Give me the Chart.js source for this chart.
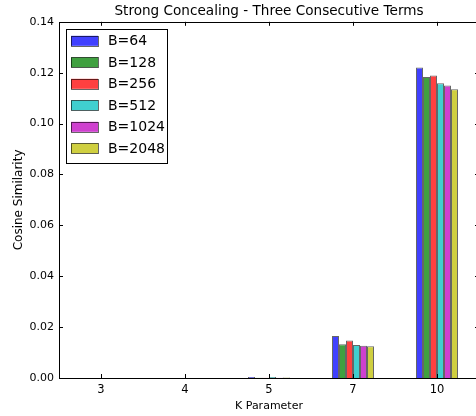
<!DOCTYPE html>
<html>
<head>
<meta charset="utf-8">
<script src="https://cdn.jsdelivr.net/npm/chart.js@4/dist/chart.umd.min.js"></script>
<style>
  html, body { margin: 0; padding: 0; overflow: hidden; background: #fff; }
</style>
</head>
<body>
<canvas id="chart" width="538" height="416"></canvas>
<script>
// categories and series
const kValues = ['3', '4', '5', '7', '10'];
const seriesNames = ['B=64', 'B=128', 'B=256', 'B=512', 'B=1024', 'B=2048'];
const b64   = [0.00003, 0.00002, 0.0004, 0.0165, 0.1220];
const b128  = [0.00002, 0.00002, 0.0001, 0.0133, 0.1183];
const b256  = [0.00002, 0.00002, 0.0001, 0.0147, 0.1189];
const b512  = [0.00002, 0.00002, 0.0004, 0.0130, 0.1159];
const b1024 = [0.00002, 0.00002, 0.0001, 0.0127, 0.1150];
const b2048 = [0.00002, 0.00002, 0.0002, 0.0125, 0.1135];
const yTicks = [0, 0.02, 0.04, 0.06, 0.08, 0.10, 0.12, 0.14];

const colors = ['#4040ff', '#40a040', '#ff4040', '#40cfcf', '#cf40cf', '#cfcf40'];
const allSeries = [b64, b128, b256, b512, b1024, b2048];

const font = "'DejaVu Sans', sans-serif";

// matplotlib-like frame with inward ticks on all sides
const framePlugin = {
  id: 'frame',
  afterDatasetsDraw(chart) {
    const {ctx, chartArea: a, scales} = chart;
    ctx.save();
    ctx.strokeStyle = '#000';
    ctx.lineWidth = 1;
    ctx.beginPath();
    yTicks.forEach(v => {
      const y = Math.round(scales.y.getPixelForValue(v)) + 0.5;
      ctx.moveTo(a.left, y); ctx.lineTo(a.left + 4, y);
      ctx.moveTo(a.right, y); ctx.lineTo(a.right - 4, y);
    });
    kValues.forEach((k, i) => {
      const x = Math.round(scales.x.getPixelForValue(i)) + 0.5;
      ctx.moveTo(x, a.bottom); ctx.lineTo(x, a.bottom - 4);
      ctx.moveTo(x, a.top); ctx.lineTo(x, a.top + 4);
    });
    ctx.stroke();
    ctx.strokeRect(Math.round(a.left) + 0.5, Math.round(a.top) + 0.5,
                   Math.round(a.right - a.left), Math.round(a.bottom - a.top));
    ctx.restore();
  }
};

// legend box in the upper left of the plot
const boxLegend = {
  id: 'boxLegend',
  afterDraw(chart) {
    const {ctx, chartArea: a} = chart;
    const x0 = a.left + 7, y0 = a.top + 7;
    ctx.save();
    ctx.fillStyle = '#fff';
    ctx.fillRect(x0, y0, 101, 134);
    ctx.strokeStyle = '#000';
    ctx.lineWidth = 1;
    ctx.strokeRect(Math.round(x0) + 0.5, Math.round(y0) + 0.5, 101, 134);
    ctx.font = '14px ' + font;
    ctx.textBaseline = 'middle';
    chart.data.datasets.forEach((ds, i) => {
      const cy = y0 + 12 + i * 21.5;
      ctx.fillStyle = ds.backgroundColor;
      ctx.fillRect(x0 + 5, cy - 5, 27, 10);
      ctx.strokeStyle = 'rgba(0,0,0,0.6)';
      ctx.strokeRect(Math.round(x0 + 5) + 0.5, Math.round(cy - 5) + 0.5, 27, 10);
      ctx.fillStyle = '#000';
      ctx.fillText(ds.label, x0 + 42, cy + 1);
    });
    ctx.restore();
  }
};

new Chart(document.getElementById('chart'), {
  type: 'bar',
  data: {
    labels: kValues,
    datasets: seriesNames.map((name, i) => ({
      label: name,
      data: allSeries[i],
      backgroundColor: colors[i],
      borderColor: 'rgba(0,0,0,0.6)',
      borderWidth: 1,
      categoryPercentage: 0.5,
      barPercentage: 1.0
    }))
  },
  options: {
    responsive: false,
    animation: false,
    plugins: {
      legend: { display: false },
      tooltip: { enabled: false },
      title: {
        display: true,
        text: 'Strong Concealing - Three Consecutive Terms',
        color: '#000',
        font: { family: font, size: 13.6, weight: 'normal' },
        padding: { top: 3, bottom: 2.5 }
      }
    },
    scales: {
      x: {
        grid: { display: false, drawTicks: false },
        border: { display: false },
        ticks: { color: '#000', font: { family: font, size: 11.5 }, padding: 5 },
        title: { display: true, text: 'K Parameter', color: '#000', font: { family: font, size: 11 }, padding: { top: 2, bottom: 3 } },
        afterFit(scale) { scale.height = 38; }
      },
      y: {
        min: 0,
        max: 0.14,
        grid: { display: false, drawTicks: false },
        border: { display: false },
        afterBuildTicks(scale) { scale.ticks = yTicks.map(v => ({ value: v })); },
        ticks: {
          color: '#000',
          font: { family: font, size: 11 },
          padding: 5,
          callback: v => v.toFixed(2)
        },
        title: { display: true, text: 'Cosine Similarity', color: '#000', font: { family: font, size: 12 }, padding: { top: 12, bottom: 0 } },
        afterFit(scale) { scale.width = 59; }
      },
      // empty right-hand axis so the plot runs past the window edge
      yRight: {
        position: 'right',
        display: true,
        grid: { display: false, drawTicks: false },
        border: { display: false },
        ticks: { display: false },
        afterFit(scale) { scale.width = 59; }
      }
    }
  },
  plugins: [framePlugin, boxLegend]
});
</script>
</body>
</html>
